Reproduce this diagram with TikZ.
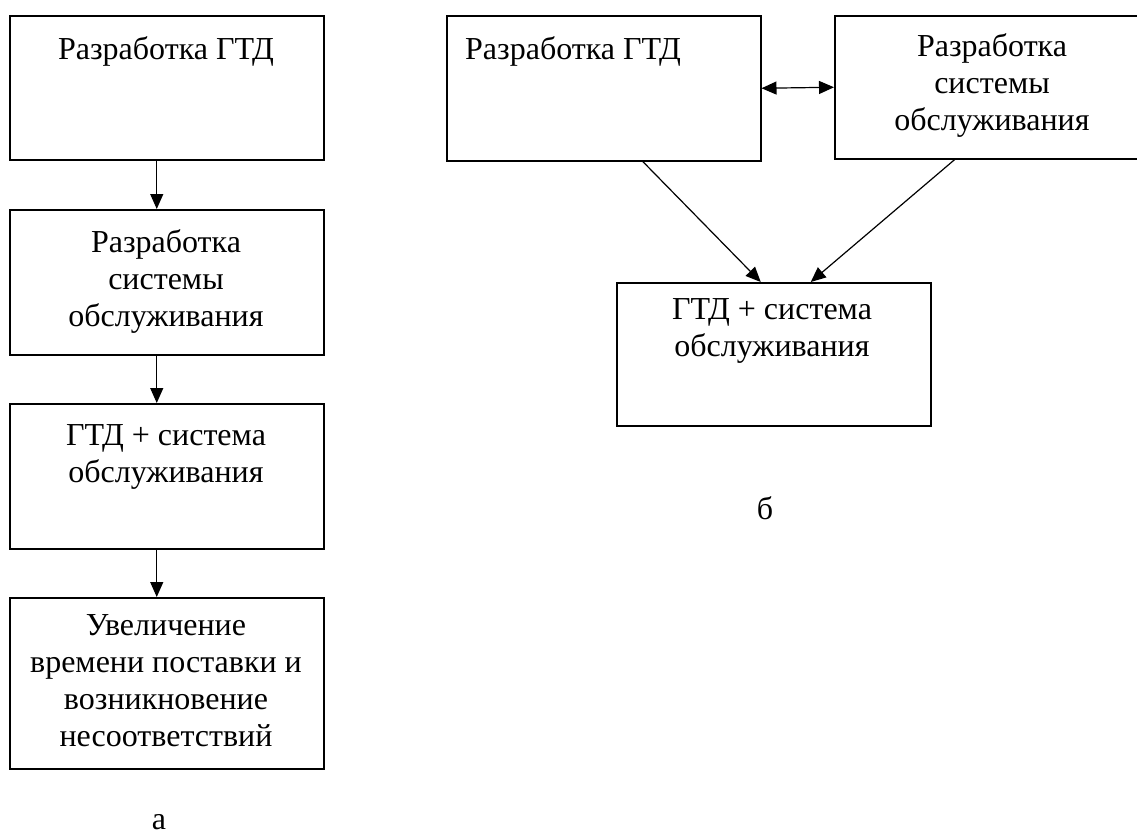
\documentclass[tikz,border=0pt]{standalone}
\usepackage{fontspec}
\setmainfont{Liberation Serif}
\usetikzlibrary{arrows.meta}
\tikzset{
  box/.style={draw, line width=1.5pt, minimum width=314pt, anchor=north west, inner sep=0pt},
  txt/.style={anchor=north, align=center, inner sep=0pt, font=\fontsize{32}{37}\selectfont},
  arr/.style={->, line width=1.2pt},
  >={Triangle[length=15pt,width=13pt]}
}
\begin{document}
\begin{tikzpicture}[x=1pt, y=-1pt]
\useasboundingbox (0,0) rectangle (1137,836);
% left chain
\node[box, minimum height=144pt] (l1) at (9,15) {};
\node[box, minimum height=145pt] (l2) at (9,209) {};
\node[box, minimum height=145pt] (l3) at (9,403) {};
\node[box, minimum height=171pt] (l4) at (9,597) {};
\node[txt] (t1) at (166,36) {Разработка ГТД};
\node[txt] (t2) at (166,229) {Разработка\\системы\\обслуживания};
\node[txt] (t3) at (166,424) {ГТД + система\\обслуживания};
\node[txt] (t4) at (166,614) {Увеличение\\времени поставки и\\возникновение\\несоответствий};
\node[txt] (la) at (159,822) [anchor=center] {а};
\draw[arr] ([xshift=-10pt]l1.south) -- ([xshift=-10pt]l2.north);
\draw[arr] ([xshift=-10pt]l2.south) -- ([xshift=-10pt]l3.north);
\draw[arr] ([xshift=-10pt]l3.south) -- ([xshift=-10pt]l4.north);
% right scheme
\node[box, minimum height=145pt] (ra) at (446,15) {};
\node[box, minimum height=143pt] (rb) at (834,15) {};
\node[box, minimum height=143pt] (rc) at (616,282) {};
\node[txt, anchor=north west] (ta) at (465,36) {Разработка ГТД};
\node[txt] (tb) at (992,33) {Разработка\\системы\\обслуживания};
\node[txt] (tc) at (772,298) {ГТД + система\\обслуживания};
\node[txt] (lb) at (765,508) [anchor=center] {б};
\draw[arr, <->] (ra.east) -- (rb.west);
\draw[arr] ([xshift=39pt]ra.south) -- ([xshift=-13pt]rc.north);
\draw[arr] ([xshift=-37pt]rb.south) -- ([xshift=37pt]rc.north);
\end{tikzpicture}
\end{document}
